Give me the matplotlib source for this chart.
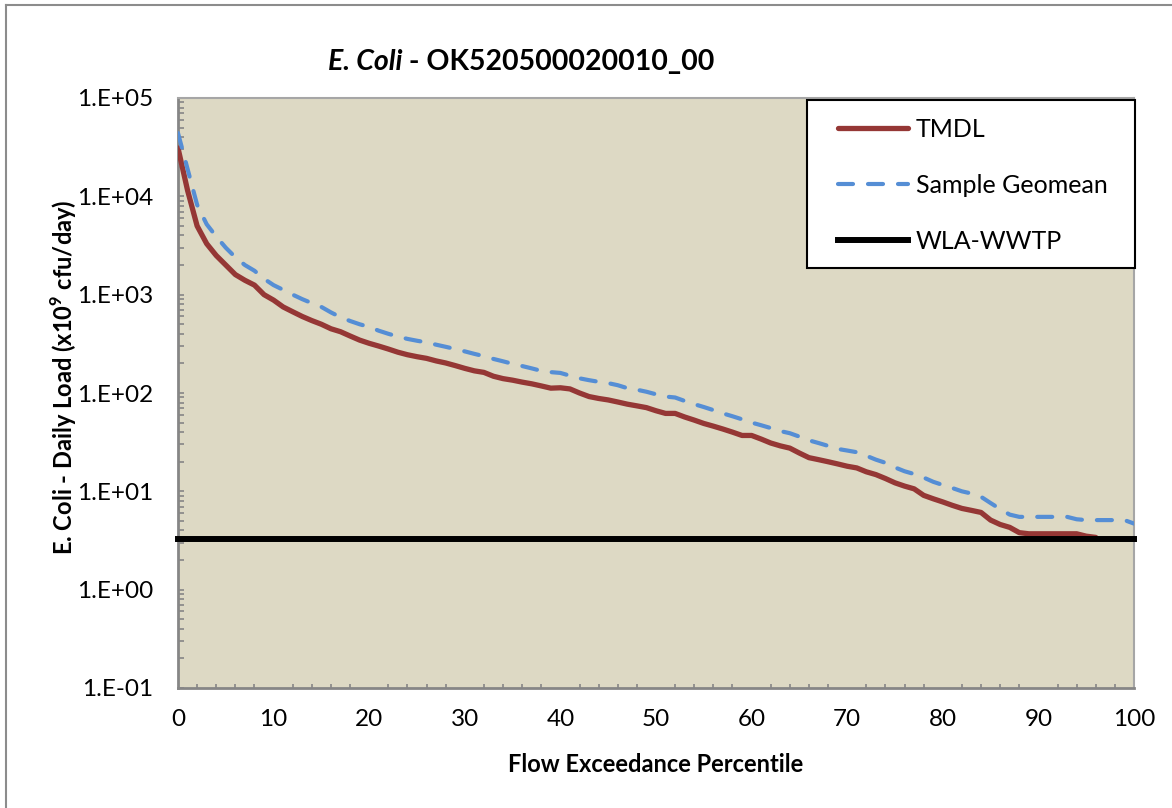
import numpy as np
import matplotlib
matplotlib.use("Agg")
from matplotlib import pyplot as plt
from matplotlib.lines import Line2D
from matplotlib.patches import Rectangle
from matplotlib.ticker import FixedLocator, MultipleLocator, FuncFormatter, LogLocator, NullFormatter

plt.rcParams['font.family'] = ['Lato', 'DejaVu Sans']
plt.rcParams['mathtext.fontset'] = 'custom'
plt.rcParams['mathtext.rm'] = 'Lato'
plt.rcParams['mathtext.bf'] = 'Lato:bold'

# flow exceedance percentile (x) and daily load, x10^9 cfu/day
tmdl_pct = list(range(0, 97))
tmdl_load = [31000, 11500, 5000, 3300, 2500, 2000, 1600, 1400, 1250, 1000,
             880, 750, 670, 600, 545, 500, 450, 420, 380, 345,
             320, 300, 280, 260, 245, 234, 225, 212, 202, 190,
             178, 168, 162, 148, 140, 135, 129, 124, 118, 112,
             113, 110, 100, 92, 88, 85, 81, 77, 74, 71,
             66, 62, 62, 57, 53, 49, 46, 43, 40, 37,
             37, 34, 31, 29, 27.5, 24.5, 22, 21, 20, 19,
             18, 17.3, 15.8, 14.8, 13.5, 12.2, 11.3, 10.6, 9.1, 8.4,
             7.8, 7.2, 6.7, 6.4, 6.1, 5.1, 4.6, 4.3, 3.8, 3.7,
             3.7, 3.7, 3.7, 3.7, 3.7, 3.5, 3.4]

geo_pct = list(range(0, 101))
geo_load = [44000, 19000, 8200, 5200, 3900, 3000, 2400, 2000, 1750, 1450,
            1250, 1120, 1000, 900, 820, 750, 660, 590, 540, 500,
            470, 430, 400, 375, 355, 340, 327, 310, 295, 280,
            265, 250, 237, 222, 210, 198, 188, 178, 168, 163,
            160, 150, 141, 135, 130, 126, 120, 112, 108, 103,
            97, 92, 90, 83, 77, 72, 67, 62, 58, 54,
            50, 47, 44, 41, 39, 36, 33, 31, 29, 27,
            26, 25, 23, 21, 19.5, 17.5, 16, 15, 13.8, 12.5,
            11.6, 10.8, 10.0, 9.5, 8.8, 7.6, 6.6, 5.8, 5.5, 5.5,
            5.5, 5.5, 5.5, 5.5, 5.2, 5.1, 5.1, 5.1, 5.1, 5.1,
            4.7]

wla_pct = [0, 100]
wla_load = [3.3, 3.3]

fig = plt.figure(figsize=(11.72, 8.08), dpi=100)
ax = fig.add_axes([178 / 1172, 1 - 688 / 808, 956 / 1172, 590 / 808])
ax.set_facecolor('#DDD9C4')

ax.plot(tmdl_pct, tmdl_load, color='#953735', lw=3.8, solid_capstyle='round',
        solid_joinstyle='round', label='TMDL', zorder=3)
ax.plot(geo_pct, geo_load, color='#558ED5', lw=3.0, dashes=(3.6, 3.6),
        dash_capstyle='round', label='Sample Geomean', zorder=3)
ax.plot(wla_pct, wla_load, color='black', lw=4.3, label='WLA-WWTP', zorder=4,
        clip_on=False)

ax.set_yscale('log')
ax.set_ylim(0.1, 1e5)
ax.set_xlim(0, 100)

ax.yaxis.set_major_locator(FixedLocator([10.0 ** k for k in range(-1, 6)]))
ax.yaxis.set_minor_locator(LogLocator(base=10, subs=np.arange(2, 10), numticks=20))
ax.yaxis.set_minor_formatter(NullFormatter())
ax.yaxis.set_major_formatter(FuncFormatter(lambda v, p: "1.E%+03d" % int(round(np.log10(v)))))
ax.xaxis.set_major_locator(MultipleLocator(10))
ax.xaxis.set_minor_locator(MultipleLocator(2))

ax.tick_params(axis='y', which='both', direction='in', length=4.5, width=1.2,
               color='#868686', pad=18, labelsize=17.5)
ax.tick_params(axis='x', which='major', direction='in', length=0, pad=15, labelsize=17.5)
ax.tick_params(axis='x', which='minor', direction='in', length=3, width=1.2, color='#868686')

for side in ['left', 'bottom']:
    ax.spines[side].set_color('#868686')
    ax.spines[side].set_linewidth(2)
for side in ['top', 'right']:
    ax.spines[side].set_color('#A6A6A6')
    ax.spines[side].set_linewidth(1.5)

ax.set_xlabel('Flow Exceedance Percentile', fontsize=17, fontweight='bold', va='center')
ax.xaxis.set_label_coords(0.5, (688 - 764) / 590)
ax.set_ylabel(r'E. Coli - Daily Load (x10$^{\mathbf{9}}$ cfu/day)', fontsize=17,
              fontweight='bold', va='center')
ax.yaxis.set_label_coords((64 - 178) / 956, (688 - 377) / 590)

t1 = fig.text(328 / 1172, 1 - 62 / 808, 'E. Coli', fontsize=20.5, fontweight='bold',
              fontstyle='italic', ha='left', va='center')
fig.canvas.draw()
ax.annotate(' - OK520500020010_00', xy=(1, 0), xycoords=t1, fontsize=20.5,
            fontweight='bold', ha='left', va='bottom', annotation_clip=False)

# legend box: white panel with black border, entries placed inside it
ax.add_patch(Rectangle(((807 - 178) / 956, (688 - 268) / 590), 328 / 956, 168 / 590,
                       transform=ax.transAxes, facecolor='white', edgecolor='black',
                       lw=1.5, zorder=5, clip_on=False))
leg = ax.legend(loc='upper left', bbox_to_anchor=((838 - 178) / 956, (688 - 118) / 590),
                borderaxespad=0, borderpad=0, fontsize=18, frameon=False,
                handlelength=2.8, handletextpad=0.3, labelspacing=1.32)
leg.set_zorder(6)

# gray frame around the chart area
fig.add_artist(Line2D([5.5 / 1172, 5.5 / 1172], [0, 1 - 5 / 808], color='#8C8C8C', lw=1.5))
fig.add_artist(Line2D([5.5 / 1172, 1], [1 - 5 / 808, 1 - 5 / 808], color='#8C8C8C', lw=1.5))

fig.savefig('out.png', dpi=100)
